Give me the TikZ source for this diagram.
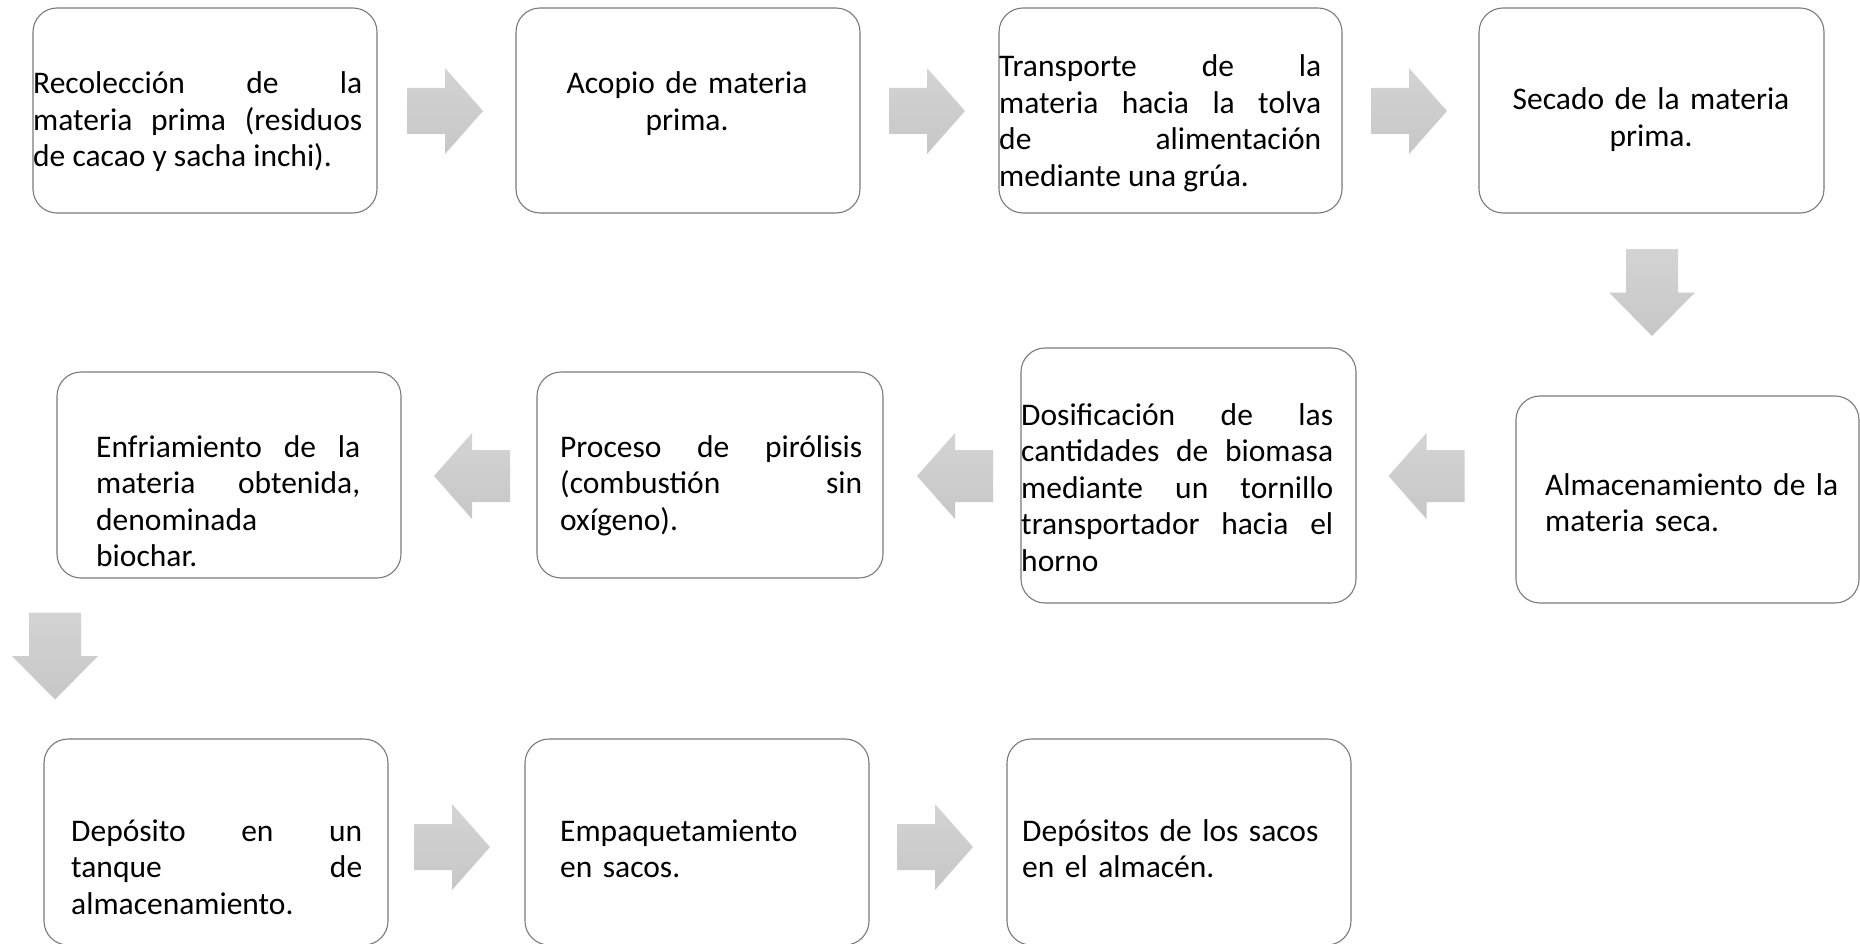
\documentclass[tikz,border=0pt]{standalone}
\usepackage{fontspec}
\setmainfont{Carlito}
\tolerance=10000 \pretolerance=-1 \hyphenpenalty=10000 \exhyphenpenalty=10000 \hbadness=10000 \hfuzz=3pt
\begin{document}
\begin{tikzpicture}[x=1pt,y=-1pt,
  box/.style={draw=black!52, line width=1.1pt, rounded corners=24pt, inner sep=0pt, fill=white},
  txt/.style={inner sep=0pt, font=\fontsize{31.5pt}{36.5pt}\selectfont},
  jtxt/.style={txt, align=justify, anchor=base west},
  ltxt/.style={txt, align=left, anchor=base west},
  ctxt/.style={txt, align=center, anchor=base},
  arrowfill/.style={draw=none, top color=black!17, bottom color=black!22},
  rightarrow/.pic={\path[arrowfill] (-38,-23) -- (0,-23) -- (0,-43) -- (38,0) -- (0,43) -- (0,23) -- (-38,23) -- cycle;},
  leftarrow/.pic={\path[arrowfill] (38,-26) -- (0,-26) -- (0,-43) -- (-38,0) -- (0,43) -- (0,26) -- (38,26) -- cycle;},
  downarrow/.pic={\path[arrowfill] (-26,-43.5) -- (26,-43.5) -- (26,0) -- (43,0) -- (0,43.5) -- (-43,0) -- (-26,0) -- cycle;}
]
\useasboundingbox (0,0) rectangle (1860,944);

% boxes
\node[box, minimum width=344pt, minimum height=205pt] (b1) at (205,110.5) {};
\node[box, minimum width=344pt, minimum height=205pt] (b2) at (688,110.5) {};
\node[box, minimum width=343pt, minimum height=205pt] (b3) at (1170.5,110.5) {};
\node[box, minimum width=345pt, minimum height=205pt] (b4) at (1651.5,110.5) {};
\node[box, minimum width=343pt, minimum height=207pt] (b5) at (1687.5,499.5) {};
\node[box, minimum width=335pt, minimum height=255pt] (b6) at (1188.5,475.5) {};
\node[box, minimum width=346pt, minimum height=206pt] (b7) at (710,475) {};
\node[box, minimum width=344pt, minimum height=206pt] (b8) at (229,475) {};
\node[box, minimum width=344pt, minimum height=206pt] (b9) at (216,842) {};
\node[box, minimum width=344pt, minimum height=206pt] (b10) at (697,842) {};
\node[box, minimum width=344pt, minimum height=206pt] (b11) at (1179,842) {};

% texts
\node[jtxt, text width=329pt] (t1) at (33,94) {Recolección de la\linebreak materia prima (residuos\linebreak de cacao y sacha inchi).};
\node[ctxt, text width=344pt] (t2) at (687,94) {Acopio de materia\\ prima.};
\node[jtxt, text width=322pt] (t3) at (999,77) {Transporte de la\linebreak materia hacia la tolva\linebreak de alimentación\linebreak mediante una grúa.};
\node[ctxt, text width=345pt] (t4) at (1651,110) {Secado de la materia\\ prima.};
\node[jtxt, text width=264pt] (t5) at (96,457) {Enfriamiento de la\linebreak materia obtenida,\linebreak denominada\linebreak biochar.};
\node[jtxt, text width=302pt] (t6) at (560,457) {Proceso de pirólisis\linebreak (combustión sin\linebreak oxígeno).};
\node[jtxt, text width=312pt] (t7) at (1021,425) {Dosificación de las\linebreak cantidades de biomasa\linebreak mediante un tornillo\linebreak transportador hacia el\linebreak horno};
\node[ltxt, text width=300pt] (t8) at (1545,495) {Almacenamiento de la\\ materia seca.};
\node[jtxt, text width=291pt] (t9) at (71,841) {Depósito en un\linebreak tanque de\linebreak almacenamiento.};
\node[ltxt, text width=290pt] (t10) at (560,841) {Empaquetamiento\\ en sacos.};
\node[ltxt, text width=300pt] (t11) at (1022,841) {Depósitos de los sacos\\ en el almacén.};

% block arrows
\pic at (445,111) {rightarrow};
\pic at (927,111) {rightarrow};
\pic at (1409,111) {rightarrow};
\pic at (1652,292.5) {downarrow};
\pic at (1426.5,476) {leftarrow};
\pic at (955,476) {leftarrow};
\pic at (472,476) {leftarrow};
\pic at (55,656) {downarrow};
\pic at (452,847) {rightarrow};
\pic at (935,847) {rightarrow};
\end{tikzpicture}
\end{document}
